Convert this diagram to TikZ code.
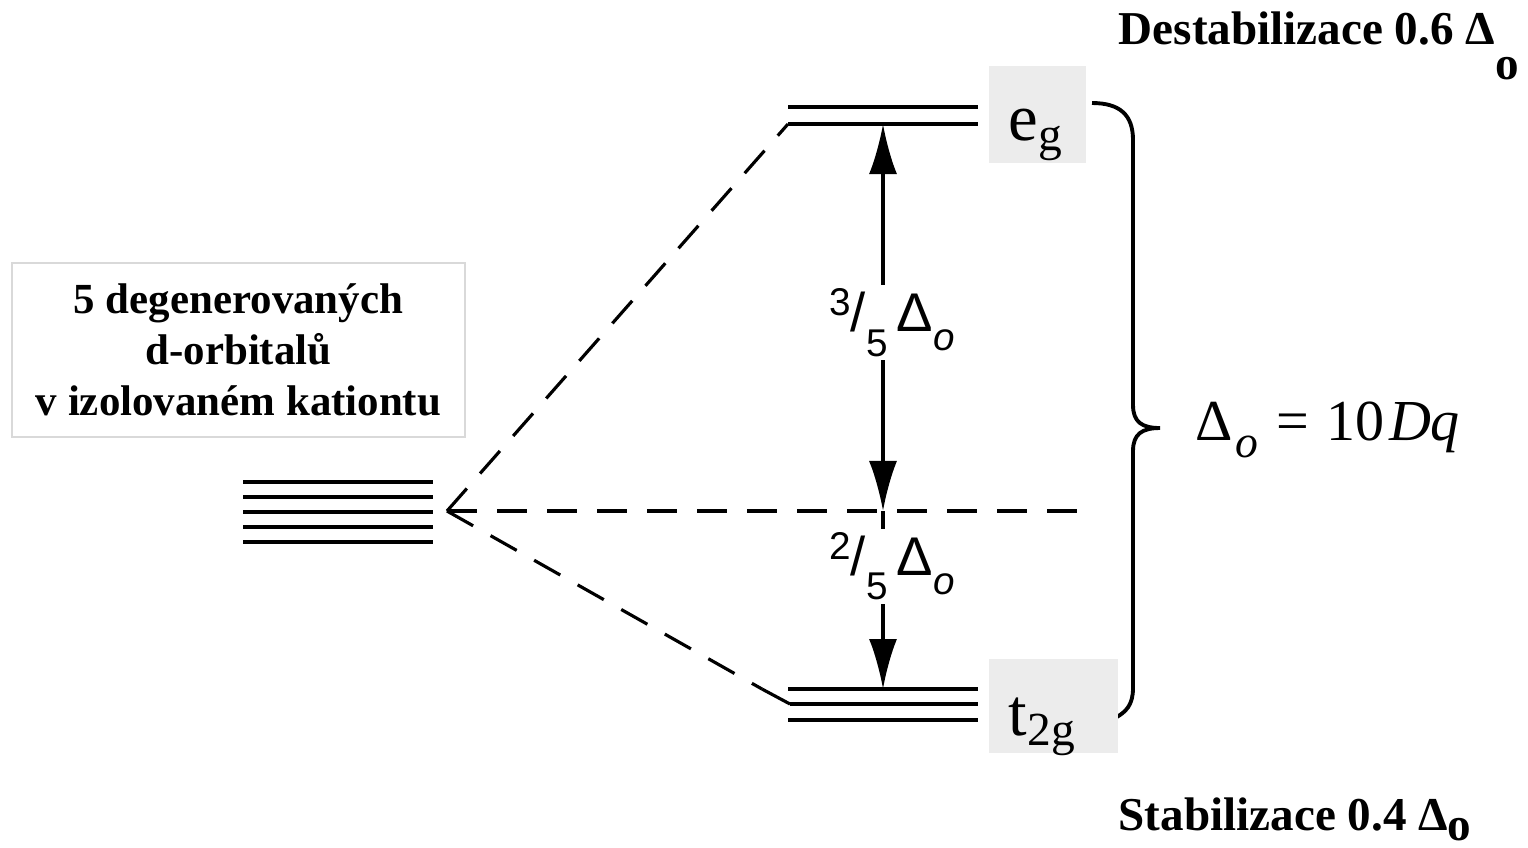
\documentclass[tikz,border=0pt]{standalone}
\usepackage{fontspec}
\setmainfont{Liberation Serif}
\setsansfont{Liberation Sans}
\usetikzlibrary{arrows.meta}

\begin{document}
\begin{tikzpicture}[x=0.01cm,y=-0.01cm,
  level/.style={line width=1.2pt},
  link/.style={line width=0.9pt, dash pattern=on 0.3cm off 0.2cm},
  gap/.style={line width=0.9pt, -{Latex[length=0.5cm,width=0.28cm]}},
  gaps/.style={line width=0.9pt, {Latex[length=0.5cm,width=0.28cm]}-{Latex[length=0.5cm,width=0.28cm]}},
  frac/.style={fill=white, inner sep=1pt, xshift=0.09cm, font=\sffamily\fontsize{15.5}{18}\selectfont},
  tag/.style={fill=gray!15, anchor=north west, inner ysep=0pt, inner xsep=0.2cm, align=left, font=\fontsize{19}{22}\selectfont},
  title/.style={font=\bfseries\fontsize{13.4}{16}\selectfont, inner sep=0pt, anchor=base west}]
  \useasboundingbox (0,0) rectangle (1528,847);

  \coordinate (apex) at (447,511);
  \coordinate (egA) at (788,107);
  \coordinate (egB) at (788,124);
  \coordinate (t2gA) at (788,689);
  \coordinate (t2gB) at (790,704);
  \coordinate (t2gC) at (788,720);
  \coordinate (kink) at (762,689);
  \coordinate (midR) at (1082,511);
  \coordinate (top) at (883,124);
  \coordinate (mid) at (883,511);
  \coordinate (bot) at (883,689);

  % free ion
  \foreach \y in {482,497,512,527,542}
    \draw[level] (243,\y) -- (433,\y);

  % split levels
  \draw[level] (egA) -- ++(190,0);
  \draw[level] (egB) -- ++(190,0);
  \draw[level] (t2gA) -- ++(190,0);
  \draw[level] (t2gB) -- ++(188,0);
  \draw[level] (t2gC) -- ++(190,0);

  \draw[link] (apex) -- (egB);
  \draw[link] (apex) -- (midR);
  \draw[link] (apex) -- (kink);
  \draw[level, line width=0.9pt] (kink) -- (t2gB);

  \draw[gaps] (top) -- (mid) node[frac, pos=0.5, yshift=-0.05cm]
    {\raisebox{0.3em}{\fontsize{11}{12}\selectfont 3}/\raisebox{-0.45em}{\fontsize{11}{12}\selectfont 5}\,Δ\raisebox{-0.35em}{\fontsize{11}{12}\selectfont\itshape o}};
  \draw[gap] (mid) -- (bot) node[frac, pos=0.31]
    {\raisebox{0.3em}{\fontsize{11}{12}\selectfont 2}/\raisebox{-0.45em}{\fontsize{11}{12}\selectfont 5}\,Δ\raisebox{-0.35em}{\fontsize{11}{12}\selectfont\itshape o}};

  % brace
  \draw[line width=1.1pt] (1092,103) .. controls (1120,103) and (1133,115) .. (1133,140)
    -- (1133,405) .. controls (1133,422) and (1142,428) .. (1160,428)
    .. controls (1142,428) and (1133,434) .. (1133,451)
    -- (1133,688) .. controls (1133,705) and (1126,712) .. (1115,718);

  \node[tag, text width=0.57cm, text height=0.75cm, text depth=0.22cm] (eg) at (988,65)
    {e\raisebox{-2.8pt}{\fontsize{13.5}{15}\selectfont g}};
  \node[tag, text width=0.89cm, text height=0.77cm, text depth=0.17cm] (t2g) at (988,658)
    {t\raisebox{-2.8pt}{\fontsize{13.5}{15}\selectfont 2g}};

  \node[draw=gray!30, line width=0.6pt, minimum width=4.53cm, minimum height=1.74cm, align=center,
    font=\bfseries\fontsize{12.2}{14.5}\selectfont] (ion) at (238.5,350)
    {5 degenerovaných\\d-orbitalů\\v izolovaném kationtu};

  \node[anchor=base west, inner sep=0pt, font=\fontsize{16.5}{19}\selectfont] (delta) at (1195,440)
    {Δ\kern0.05em\raisebox{-5pt}{\fontsize{13}{14}\selectfont\itshape o}\hspace{0.3em}=\hspace{0.3em}10\kern0.08em\textit{Dq}};
  \node[title] (destab) at (1118,44) {Destabilizace 0.6 Δ\raisebox{-10pt}{o}};
  \node[title] (stab) at (1118,830) {Stabilizace 0.4 Δ\raisebox{-3pt}{o}};
\end{tikzpicture}
\end{document}
